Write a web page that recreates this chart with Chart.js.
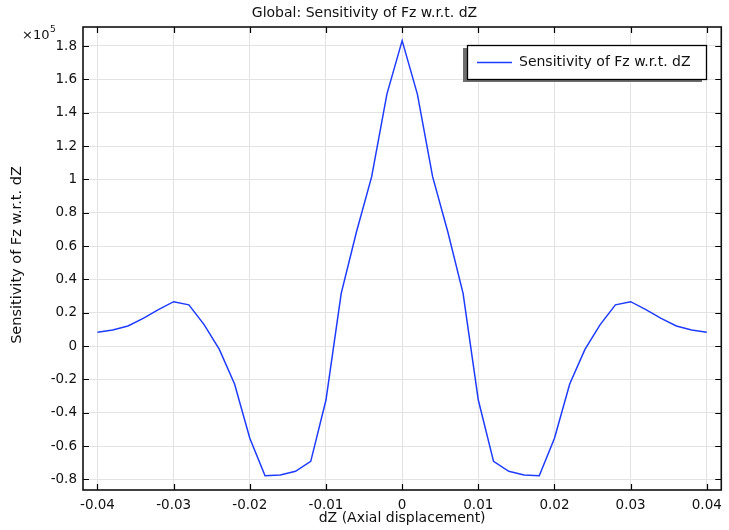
<!DOCTYPE html>
<html>
<head>
<meta charset="utf-8">
<script src="https://cdn.jsdelivr.net/npm/chart.js@4.4.1/dist/chart.umd.min.js"></script>
<style>
  html, body { margin: 0; padding: 0; background: #fff; }
  #wrap { width: 729px; height: 530px; }
</style>
</head>
<body>
<div id="wrap"><canvas id="c" width="729" height="530"></canvas></div>
<script>
// Data (values in units of 1e5)
const dZ = [-0.040,-0.038,-0.036,-0.034,-0.032,-0.030,-0.028,-0.026,-0.024,-0.022,-0.020,-0.018,-0.016,-0.014,-0.012,-0.010,-0.008,-0.006,-0.004,-0.002,0.000,0.002,0.004,0.006,0.008,0.010,0.012,0.014,0.016,0.018,0.020,0.022,0.024,0.026,0.028,0.030,0.032,0.034,0.036,0.038,0.040];
const sensitivity = [0.082,0.096,0.120,0.166,0.218,0.266,0.247,0.128,-0.020,-0.228,-0.553,-0.779,-0.774,-0.752,-0.692,-0.324,0.316,0.684,1.016,1.511,1.832,1.511,1.016,0.684,0.316,-0.324,-0.692,-0.752,-0.774,-0.779,-0.553,-0.228,-0.020,0.128,0.247,0.266,0.218,0.166,0.120,0.096,0.082];
const seriesLabel = 'Sensitivity of Fz w.r.t. dZ';
const chartTitle = 'Global: Sensitivity of Fz w.r.t. dZ';
const xTitle = 'dZ (Axial displacement)';
const yTitle = 'Sensitivity of Fz w.r.t. dZ';
const yExponent = '5';

const FONT = '"DejaVu Sans", sans-serif';
const lineColor = '#1e3cff';

const framePlugin = {
  id: 'frame',
  afterDatasetsDraw(chart) {
    const ctx = chart.ctx;
    const a = chart.chartArea;
    const xs = chart.scales.x, ys = chart.scales.y;
    ctx.save();
    // inward tick marks
    ctx.strokeStyle = '#000';
    ctx.lineWidth = 1.2;
    ctx.beginPath();
    xs.ticks.forEach(t => {
      const px = Math.round(xs.getPixelForValue(t.value)) + 0.5;
      ctx.moveTo(px, a.bottom); ctx.lineTo(px, a.bottom - 6);
      ctx.moveTo(px, a.top); ctx.lineTo(px, a.top + 6);
    });
    ys.ticks.forEach(t => {
      const py = Math.round(ys.getPixelForValue(t.value)) + 0.5;
      ctx.moveTo(a.left, py); ctx.lineTo(a.left + 6, py);
      ctx.moveTo(a.right, py); ctx.lineTo(a.right - 6, py);
    });
    ctx.stroke();
    // frame
    ctx.lineWidth = 1.6;
    ctx.strokeStyle = '#111';
    ctx.strokeRect(a.left, a.top, a.right - a.left, a.bottom - a.top);

    // legend with shadow
    const bx = 467, by = 45, bw = 239, bh = 34;
    ctx.fillStyle = '#6e6e6e';
    ctx.fillRect(bx - 4, by + 3, bw, bh);
    ctx.fillStyle = '#fff';
    ctx.fillRect(bx, by, bw, bh);
    ctx.lineWidth = 1.3;
    ctx.strokeStyle = '#000';
    ctx.strokeRect(bx + 0.5, by + 0.5, bw, bh);
    const ds = chart.data.datasets[0];
    ctx.strokeStyle = ds.borderColor;
    ctx.lineWidth = 1.6;
    ctx.beginPath();
    ctx.moveTo(477, by + 17.5); ctx.lineTo(512, by + 17.5);
    ctx.stroke();
    ctx.fillStyle = '#111';
    ctx.font = '14px ' + FONT;
    ctx.textAlign = 'left';
    ctx.textBaseline = 'middle';
    ctx.fillText(ds.label, 519, by + 17);

    // title
    ctx.textAlign = 'center';
    ctx.textBaseline = 'middle';
    ctx.font = '14px ' + FONT;
    ctx.fillText(chartTitle, 364.5, 13);
    // x axis title
    ctx.fillText(xTitle, (a.left + a.right) / 2, 518);
    // y axis title
    ctx.save();
    ctx.font = '14.5px ' + FONT;
    ctx.translate(17, 255);
    ctx.rotate(-Math.PI / 2);
    ctx.fillText(yTitle, 0, 0);
    ctx.restore();
    // exponent
    ctx.textAlign = 'left';
    ctx.textBaseline = 'alphabetic';
    ctx.font = '13px ' + FONT;
    ctx.fillText('\u00d710', 22, 38.5);
    const w = ctx.measureText('\u00d710').width;
    ctx.font = '9px ' + FONT;
    ctx.fillText(yExponent, 22 + w + 0.5, 32);
    ctx.restore();
  }
};

new Chart(document.getElementById('c'), {
  type: 'line',
  data: {
    datasets: [{
      label: seriesLabel,
      data: dZ.map((x, i) => ({ x: x, y: sensitivity[i] })),
      borderColor: lineColor,
      backgroundColor: lineColor,
      borderWidth: 1.5,
      pointRadius: 0,
      tension: 0,
      fill: false
    }]
  },
  options: {
    responsive: false,
    animation: false,
    devicePixelRatio: 1,
    layout: { padding: { left: 0, right: 7, top: 27, bottom: 0 } },
    plugins: {
      legend: { display: false },
      title: { display: false },
      tooltip: { enabled: false }
    },
    scales: {
      x: {
        type: 'linear',
        min: -0.0419,
        max: 0.0419,
        afterFit(s) { s.height = 40; },
        grid: { color: '#e3e3e3', drawTicks: false, lineWidth: 1 },
        border: { display: false },
        ticks: {
          stepSize: 0.01,
          includeBounds: false,
          padding: 7,
          color: '#111',
          font: { family: FONT, size: 13.5 },
          maxRotation: 0,
          callback: v => { const r = Math.round(v * 100) / 100; return r === 0 ? '0' : r.toFixed(2); }
        }
      },
      y: {
        type: 'linear',
        min: -0.864,
        max: 1.914,
        afterFit(s) { s.width = 83; },
        grid: { color: '#e3e3e3', drawTicks: false, lineWidth: 1 },
        border: { display: false },
        ticks: {
          stepSize: 0.2,
          includeBounds: false,
          padding: 6,
          color: '#111',
          font: { family: FONT, size: 13.5 },
          callback: v => { const r = Math.round(v * 10) / 10; return String(r === 0 ? 0 : r); }
        }
      }
    }
  },
  plugins: [framePlugin]
});
</script>
</body>
</html>
